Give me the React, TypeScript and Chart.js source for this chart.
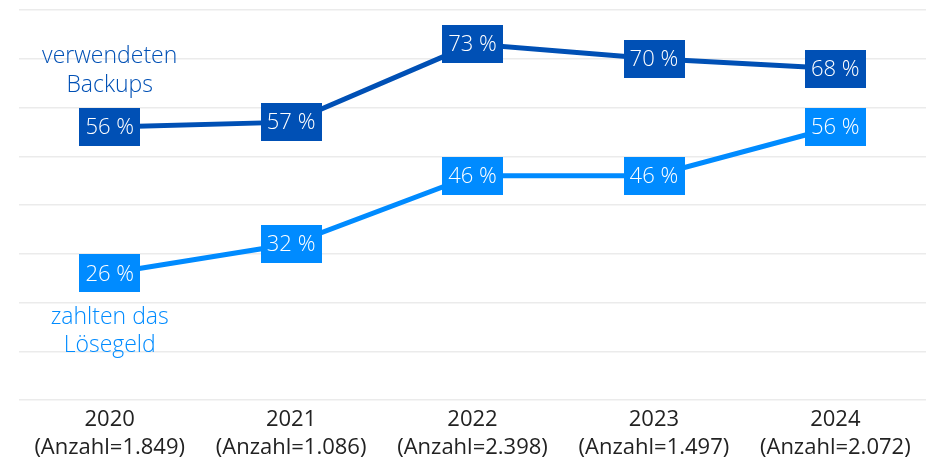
import React, { useEffect, useRef } from "react";
import { Chart, registerables } from "chart.js";

Chart.register(...registerables);

const years = ["2020", "2021", "2022", "2023", "2024"];
const counts = ["1.849", "1.086", "2.398", "1.497", "2.072"];
const backupsValues = [56, 57, 73, 70, 68];
const ransomValues = [26, 32, 46, 46, 56];
const backupsLabel = ["verwendeten", "Backups"];
const ransomLabel = ["zahlten das", "Lösegeld"];

const DARK = "#0050b5";
const LIGHT = "#008bff";
const FONT = "'Open Sans', 'DejaVu Sans', sans-serif";

const boxLabelsPlugin = {
  id: "boxLabels",
  afterDatasetsDraw(chart: any) {
    const ctx = chart.ctx;
    ctx.save();
    chart.data.datasets.forEach((ds: any, i: number) => {
      const meta = chart.getDatasetMeta(i);
      meta.data.forEach((pt: any, j: number) => {
        const text = ds.data[j] + " %";
        ctx.font = "300 22px " + FONT;
        const w = ctx.measureText(text).width + 12;
        const h = 38;
        ctx.fillStyle = ds.borderColor;
        ctx.fillRect(Math.round(pt.x - w / 2), Math.round(pt.y - h / 2), Math.round(w), h);
        ctx.fillStyle = "#ffffff";
        ctx.textAlign = "center";
        ctx.textBaseline = "middle";
        ctx.fillText(text, pt.x, pt.y + 1);
      });
      // series caption near first point
      const first = meta.data[0];
      const lines = ds.caption as string[];
      ctx.font = "300 23px " + FONT;
      ctx.fillStyle = ds.borderColor;
      ctx.textAlign = "center";
      ctx.textBaseline = "middle";
      lines.forEach((ln: string, k: number) => {
        const y = ds.captionAbove
          ? first.y - 71 + k * 29
          : first.y + 44 + k * 28;
        ctx.fillText(ln, first.x, y);
      });
    });
    ctx.restore();
  },
};

export default function App() {
  const ref = useRef<HTMLCanvasElement>(null);
  useEffect(() => {
    document.body.style.margin = "0";
    const chart = new Chart(ref.current!, {
      type: "line",
      data: {
        labels: years.map((y, i) => [y, "(Anzahl=" + counts[i] + ")"]),
        datasets: [
          {
            data: ransomValues,
            borderColor: LIGHT,
            backgroundColor: LIGHT,
            borderWidth: 5,
            pointRadius: 0,
            tension: 0,
            caption: ransomLabel,
            captionAbove: false,
          } as any,
          {
            data: backupsValues,
            borderColor: DARK,
            backgroundColor: DARK,
            borderWidth: 5,
            pointRadius: 0,
            tension: 0,
            caption: backupsLabel,
            captionAbove: true,
          } as any,
        ],
      },
      options: {
        animation: false,
        responsive: false,
        layout: { padding: { left: 19, right: 12, top: 10, bottom: 0 } },
        plugins: { legend: { display: false }, tooltip: { enabled: false } },
        scales: {
          x: {
            offset: true,
            grid: { display: false, drawTicks: false },
            border: { display: false },
            ticks: {
              color: "#222222",
              padding: 6,
              font: { family: FONT, size: 22, lineHeight: 1.27 },
            },
            afterFit: (s: any) => {
              s.height = 61;
            },
          },
          y: {
            min: 0,
            max: 80,
            ticks: { display: false, stepSize: 10 },
            border: { display: false },
            grid: { color: "#ebebeb", lineWidth: 1.5, drawTicks: false },
            afterFit: (s: any) => {
              s.width = 0;
            },
          },
        },
      },
      plugins: [boxLabelsPlugin],
    });
    return () => chart.destroy();
  }, []);
  return <canvas ref={ref} width={938} height={461} style={{ display: "block" }} />;
}
